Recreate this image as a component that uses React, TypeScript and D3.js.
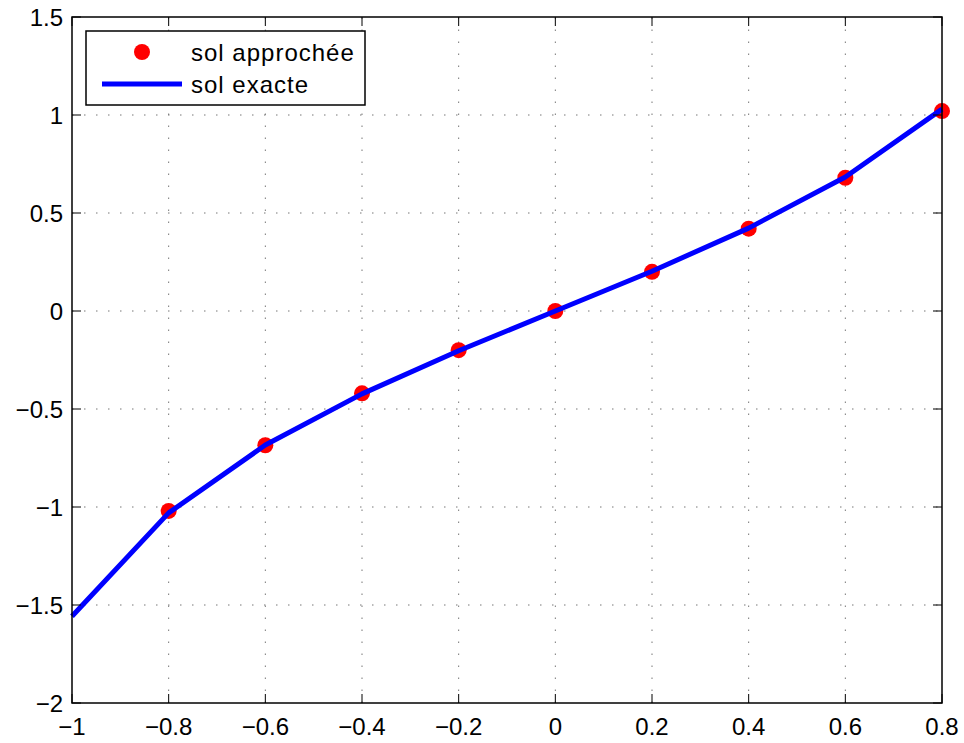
import React from 'react';
import * as d3 from 'd3';

const exactX = [-1, -0.8, -0.6, -0.4, -0.2, 0, 0.2, 0.4, 0.6, 0.8];
const exactY = [-1.557, -1.03, -0.684, -0.423, -0.203, 0, 0.203, 0.423, 0.684, 1.03];
const approxX = [-0.8, -0.6, -0.4, -0.2, 0, 0.2, 0.4, 0.6, 0.8];
const approxY = [-1.02, -0.685, -0.42, -0.2, 0, 0.2, 0.42, 0.68, 1.02];
const xTicks = [-1, -0.8, -0.6, -0.4, -0.2, 0, 0.2, 0.4, 0.6, 0.8];
const yTicks = [-2, -1.5, -1, -0.5, 0, 0.5, 1, 1.5];
const legendLabels = ['sol approchée', 'sol exacte'];

const W = 964;
const H = 743;
const m = { left: 72, right: 22, top: 17, bottom: 40 };

const fmt = (v: number) => (v < 0 ? '\u2212' + String(-v) : String(v));

export default function App() {
  const x = d3.scaleLinear().domain([-1, 0.8]).range([m.left, W - m.right]);
  const y = d3.scaleLinear().domain([-2, 1.5]).range([H - m.bottom, m.top]);
  const line = d3.line<number>().x((_, i) => x(exactX[i])).y(d => y(d));
  const x0 = m.left, x1 = W - m.right, y0 = m.top, y1 = H - m.bottom;
  const font = 'Liberation Sans, Arial, Helvetica, sans-serif';

  return (
    <svg width={W} height={H} style={{ position: 'absolute', left: 0, top: 0 }}>
      <rect x={0} y={0} width={W} height={H} fill="white" />
      {/* grid */}
      <g stroke="#777" strokeWidth={1} strokeDasharray="1.5,10.5">
        {xTicks.slice(1, -1).map(t => (
          <line key={'gx' + t} x1={x(t)} x2={x(t)} y1={y1} y2={y0} />
        ))}
        {yTicks.slice(1, -1).map(t => (
          <line key={'gy' + t} x1={x0} x2={x1} y1={y(t)} y2={y(t)} />
        ))}
      </g>
      {/* markers first, exact line on top */}
      {approxX.map((v, i) => (
        <circle key={'p' + i} cx={x(v)} cy={y(approxY[i])} r={8} fill="#ff0000" />
      ))}
      <path d={line(exactY) || ''} fill="none" stroke="#0000ff" strokeWidth={5} strokeLinejoin="round" />
      {/* axes box */}
      <rect x={x0} y={y0} width={x1 - x0} height={y1 - y0} fill="none" stroke="black" strokeWidth={1.5} />
      <g stroke="black" strokeWidth={1}>
        {xTicks.map(t => (
          <g key={'tx' + t}>
            <line x1={x(t)} x2={x(t)} y1={y1} y2={y1 - 9} />
            <line x1={x(t)} x2={x(t)} y1={y0} y2={y0 + 9} />
          </g>
        ))}
        {yTicks.map(t => (
          <g key={'ty' + t}>
            <line x1={x0} x2={x0 + 9} y1={y(t)} y2={y(t)} />
            <line x1={x1} x2={x1 - 9} y1={y(t)} y2={y(t)} />
          </g>
        ))}
      </g>
      <g fontFamily={font} fontSize={24} fill="black">
        {xTicks.map(t => (
          <text key={'lx' + t} x={x(t)} y={y1 + 32} textAnchor="middle">{fmt(t)}</text>
        ))}
        {yTicks.map(t => (
          <text key={'ly' + t} x={x0 - 9} y={y(t) + 8.5} textAnchor="end">{fmt(t)}</text>
        ))}
      </g>
      {/* legend */}
      <g fontFamily={font} fontSize={24} letterSpacing={1}>
        <rect x={86} y={31} width={279} height={74} fill="white" stroke="black" strokeWidth={1.5} />
        <circle cx={142} cy={52} r={8} fill="#ff0000" />
        <text x={191} y={61}>{legendLabels[0]}</text>
        <line x1={102} x2={182} y1={84} y2={84} stroke="#0000ff" strokeWidth={5} />
        <text x={191} y={93}>{legendLabels[1]}</text>
      </g>
    </svg>
  );
}
